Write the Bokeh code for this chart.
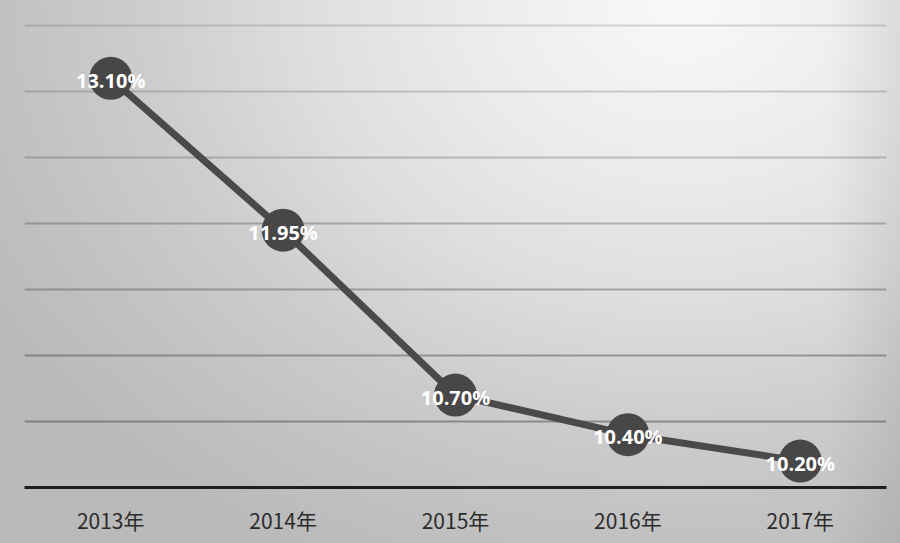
from bokeh.plotting import figure
from bokeh.models import FactorRange, Range1d, FixedTicker, Grid, ColumnDataSource
from bokeh.core.properties import value
from bokeh.embed import file_html
from bokeh.resources import INLINE

# ---- data ----
years = ["2013年", "2014年", "2015年", "2016年", "2017年"]
rates = [13.10, 11.95, 10.70, 10.40, 10.20]
rate_labels = ["13.10%", "11.95%", "10.70%", "10.40%", "10.20%"]
grid_ticks = [10.5, 11.0, 11.5, 12.0, 12.5, 13.0, 13.5]
y_min, y_max = 10.0, 13.69

src = ColumnDataSource(dict(year=years, rate=rates, label=rate_labels))

p = figure(
    width=900, height=543,
    x_range=FactorRange(factors=years, range_padding=0),
    y_range=Range1d(y_min, y_max),
    output_backend="svg", toolbar_location=None,
    y_axis_location=None,
    min_border_left=24, min_border_right=14, min_border_top=0, min_border_bottom=56,
)

p.border_fill_color = None
p.background_fill_color = None
p.outline_line_color = None
p.styles = {
    "background": (
        "linear-gradient(to right, rgba(0,0,0,0) 92%, rgba(0,0,0,0.07) 100%), "
        "radial-gradient(ellipse 88% 115% at 76% 0%, #f9f9f9 0%, #ebebeb 28%, "
        "#dedede 48%, #cdcdcd 68%, #c2c2c2 85%, #bababa 100%)"
    )
}

# grid lines (darker toward the bottom, as in the reference)
p.xgrid.visible = False
p.ygrid.visible = False
n = len(grid_ticks)
for i, t in enumerate(grid_ticks):
    g = Grid(dimension=1, ticker=FixedTicker(ticks=[t]))
    g.grid_line_color = "#3a3a3a"
    g.grid_line_alpha = 0.45 - 0.27 * i / (n - 1)
    g.grid_line_width = 2
    p.add_layout(g)

# x axis
ax = p.xaxis[0]
ax.axis_line_color = "#1e1e1e"
ax.axis_line_width = 3
ax.major_tick_line_color = None
ax.minor_tick_line_color = None
ax.major_label_text_font = "Noto Sans CJK SC"
ax.major_label_text_font_size = "21px"
ax.major_label_text_color = "#2c2c2c"
ax.major_label_standoff = 11

# line + markers
p.line("year", "rate", source=src, line_width=7, line_color="#4a4a4a")
p.scatter("year", "rate", source=src, marker="circle", size=43,
          fill_color="#474747", line_color=None)

# data labels
p.text("year", "rate", text="label", source=src,
       text_font=value("Open Sans"), text_font_style="bold",
       text_font_size="20px", text_color="white",
       text_align="center", text_baseline="middle", y_offset=2)

open("out.html", "w").write(file_html(p, INLINE))
